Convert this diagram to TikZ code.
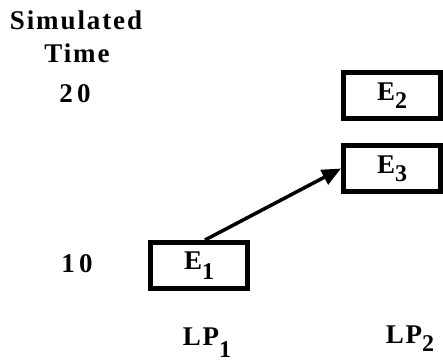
\documentclass[tikz,border=0pt]{standalone}
\usepackage{fontspec}
\setmainfont{Liberation Serif}
\newfontfamily\spacedfont[LetterSpace=7]{Liberation Serif}
\usetikzlibrary{arrows.meta,calc,positioning}
\newcommand{\lowsub}[2][8pt]{\raisebox{-#1}{\fontsize{24}{26}\selectfont #2}}

\begin{document}
\begin{tikzpicture}[x=1pt,y=1pt,every node/.style={font=\fontsize{27}{32}\selectfont\bfseries\spacedfont},
  event/.style={draw,line width=5pt,minimum width=97pt,minimum height=46pt,inner sep=0pt}]
\useasboundingbox (0,0) rectangle (443,361);
\node [anchor=base] (TimeLabel1) at (76,331) {Simulated};
\node [anchor=base] (TimeLabel2) at (77,298) {Time};
\node [anchor=base] (Tick20) at (75,258) {2\,0};
\node [anchor=base] (Tick10) at (77,89) {1\,0};
\node [event] (E1) at (199,95.5) {E\lowsub[10pt]{1}};
\node [event] (E2) at (392,265.5) {E\lowsub{2}};
\node [event] (E3) at (392,192.5) {E\lowsub{3}};
\node [anchor=base] (LP1) at (207,16) {LP\lowsub[12pt]{1}};
\node [anchor=base] (LP2) at (410,18) {LP\lowsub{2}};
\draw [line width=3.5pt,-{Triangle[length=19pt,width=16pt]}] ($(E1.north) + (6,0)$) -- (E3.west);
\end{tikzpicture}
\end{document}
